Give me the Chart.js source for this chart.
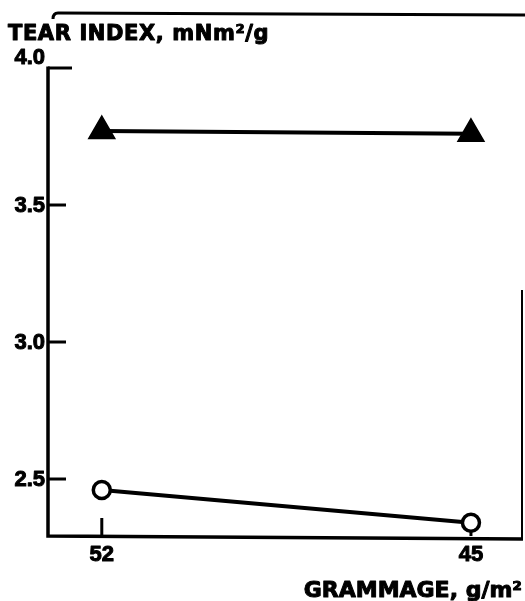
<!DOCTYPE html>
<html>
<head>
<meta charset="utf-8">
<script src="https://cdn.jsdelivr.net/npm/chart.js@4/dist/chart.umd.min.js"></script>
<style>
  body { margin: 0; background: #fff; overflow: hidden; }
  #wrap { width: 525px; height: 601px; position: relative; }
</style>
</head>
<body>
<div id="wrap"><canvas id="tearChart"></canvas></div>
<script>
// --- DATA ---
const grammage = [52, 45];
const tearTriangle = [3.77, 3.76];
const tearCircle = [2.46, 2.34];
const yTickValues = [2.5, 3.0, 3.5, 4.0];
const yTickLabels = ["2.5", "3.0", "3.5", "4.0"];
const xTickValues = [52, 45];
const xTickLabels = ["52", "45"];
const yTitle = "TEAR INDEX, mNm\u00B2/g";
const xTitle = "GRAMMAGE, g/m\u00B2";

const toPoints = (ys) => grammage.map((g, i) => ({ x: g, y: ys[i] }));

// heavy lettering like the original print
const boldText = (ctx, text, x, y) => {
    ctx.strokeText(text, x, y);
    ctx.fillText(text, x, y);
};

// axes, inward ticks, labels and the bits of scanned frame
const axesPlugin = {
    id: 'axesPlugin',
    beforeDatasetsDraw(chart) {
        const { ctx, chartArea: a, scales: { x, y } } = chart;
        ctx.save();
        ctx.strokeStyle = '#000';
        ctx.lineCap = 'butt';

        // frame remnants from the scan
        ctx.lineWidth = 3;
        ctx.beginPath();
        ctx.moveTo(53, 19);
        ctx.quadraticCurveTo(53, 13, 58, 13);
        ctx.lineTo(525, 15);
        ctx.stroke();
        ctx.lineWidth = 2;
        ctx.beginPath();
        ctx.moveTo(a.right + 2, 290);
        ctx.lineTo(a.right + 2, a.bottom + 4);
        ctx.stroke();

        // axis lines
        ctx.lineWidth = 3.5;
        ctx.beginPath();
        ctx.moveTo(a.left, a.top - 1.5);
        ctx.lineTo(a.left, a.bottom);
        ctx.lineTo(a.right + 3, a.bottom + 3);
        ctx.stroke();

        // y ticks point inward
        ctx.lineWidth = 3;
        yTickValues.forEach((v, i) => {
            const py = y.getPixelForValue(v);
            const len = i === yTickValues.length - 1 ? 24 : 18;
            ctx.beginPath();
            ctx.moveTo(a.left, py);
            ctx.lineTo(a.left + len, py);
            ctx.stroke();
        });
        // x ticks point upward
        xTickValues.forEach(v => {
            const px = x.getPixelForValue(v);
            ctx.beginPath();
            ctx.moveTo(px, a.bottom);
            ctx.lineTo(px, a.bottom - 18);
            ctx.stroke();
        });

        // tick labels
        ctx.fillStyle = '#000';
        ctx.lineWidth = 1;
        ctx.lineJoin = 'round';
        ctx.font = 'bold 22px "Liberation Sans", Arial, sans-serif';
        ctx.textAlign = 'right';
        yTickValues.forEach((v, i) => {
            const py = y.getPixelForValue(v);
            const top = i === yTickValues.length - 1;
            ctx.textBaseline = top ? 'alphabetic' : 'middle';
            boldText(ctx, yTickLabels[i], a.left - 3, top ? py - 4 : py + 1);
        });
        ctx.textAlign = 'center';
        ctx.textBaseline = 'top';
        xTickValues.forEach((v, i) => {
            boldText(ctx, xTickLabels[i], x.getPixelForValue(v), a.bottom + 8);
        });

        // axis titles
        ctx.font = 'bold 21px "DejaVu Sans", sans-serif';
        ctx.textBaseline = 'alphabetic';
        ctx.textAlign = 'left';
        ctx.letterSpacing = '0.6px';
        boldText(ctx, yTitle, 8, 40);
        ctx.font = 'bold 22px "DejaVu Sans", sans-serif';
        ctx.letterSpacing = '0px';
        ctx.textAlign = 'right';
        boldText(ctx, xTitle, 522, 597);
        ctx.restore();
    }
};

new Chart(document.getElementById('tearChart'), {
    type: 'line',
    data: {
        datasets: [
            {
                label: 'triangle',
                data: toPoints(tearTriangle),
                borderColor: '#000',
                borderWidth: 4,
                backgroundColor: '#000',
                pointStyle: 'triangle',
                pointRadius: 15,
                pointBackgroundColor: '#000',
                pointBorderColor: '#000',
                pointBorderWidth: 1.5,
                clip: false
            },
            {
                label: 'circle',
                data: toPoints(tearCircle),
                borderColor: '#000',
                borderWidth: 4,
                pointStyle: 'circle',
                pointRadius: 8.5,
                pointBackgroundColor: '#fff',
                pointBorderColor: '#000',
                pointBorderWidth: 3.5,
                clip: false
            }
        ]
    },
    options: {
        responsive: true,
        maintainAspectRatio: false,
        animation: false,
        layout: { autoPadding: false, padding: { left: 48, right: 5, top: 68, bottom: 65 } },
        plugins: {
            legend: { display: false },
            tooltip: { enabled: false }
        },
        scales: {
            x: { type: 'linear', reverse: true, min: 44.07, max: 53.02, display: false },
            y: { type: 'linear', min: 2.292, max: 4.0, display: false }
        }
    },
    plugins: [axesPlugin]
});
</script>
</body>
</html>
